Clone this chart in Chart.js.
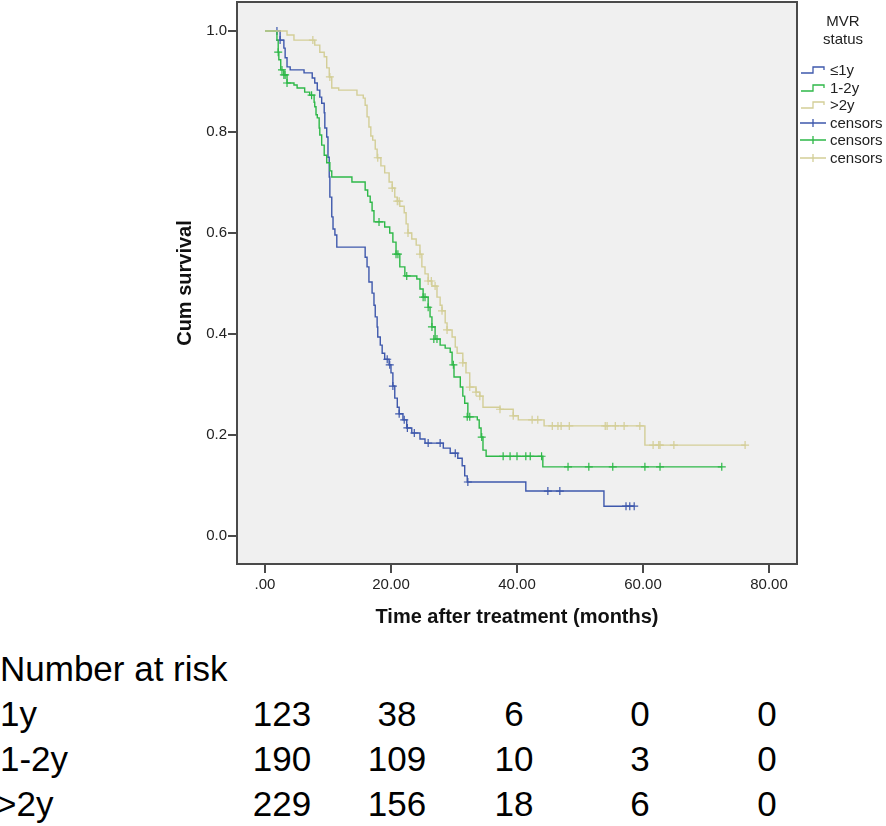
<!DOCTYPE html>
<html>
<head>
<meta charset="utf-8">
<script src="https://cdn.jsdelivr.net/npm/chart.js@4.4.1/dist/chart.umd.min.js"></script>
<style>
  body { margin: 0; background: #fff; width: 886px; height: 826px; overflow: hidden; position: relative;
         font-family: "Liberation Sans", Arial, sans-serif; }
  #wrap { position: absolute; left: 0; top: -10px; width: 886px; height: 650px; }
  .lg { position: absolute; font-size: 15px; line-height: 18px; color: #222; white-space: nowrap; }
  .lg-title { width: 88px; left: 799px; text-align: center; }
  .lg svg { position: absolute; left: -30px; top: 4px; }
  .risk { position: absolute; font-size: 35px; line-height: 35px; color: #000; white-space: nowrap; }
  .num { width: 100px; text-align: center; }
</style>
</head>
<body>
<div id="wrap"><canvas id="kmChart" width="886" height="650"></canvas></div>
<div id="legend"></div>
<div id="riskTable"></div>
<script>
// survival steps (months, cum survival)
const le1Time = [0, 2.4, 3.0, 3.2, 3.5, 4.0, 6.2, 7.5, 7.9, 8.3, 8.7, 9.0, 9.4, 9.5, 9.8, 10.0, 10.2, 10.3, 10.6, 10.8, 11.1, 11.4,
  15.9, 16.2, 16.5, 17.0, 17.3, 17.5, 17.8, 17.9, 18.3, 18.6, 19.0, 19.7, 20.0, 20.3, 20.6, 21.0, 21.3, 21.9, 22.5, 23.3,
  24.6, 25.4, 28.3, 29.4, 30.6, 31.3, 31.7, 32.1, 41.4, 53.8, 58.6];
const le1Surv = [1.0, 0.982, 0.966, 0.947, 0.929, 0.923, 0.917, 0.907, 0.897, 0.883, 0.869, 0.857, 0.838, 0.808, 0.790, 0.750, 0.711, 0.671, 0.632, 0.608, 0.596, 0.572,
  0.552, 0.533, 0.503, 0.481, 0.457, 0.434, 0.414, 0.394, 0.378, 0.362, 0.350, 0.339, 0.323, 0.297, 0.273, 0.255, 0.242, 0.230, 0.214, 0.204,
  0.192, 0.184, 0.174, 0.164, 0.154, 0.139, 0.119, 0.107, 0.089, 0.059, 0.059];
const le1CensTime = [1.9, 2.4, 19.4, 19.8, 20.3, 21.3, 22.1, 22.6, 23.7, 25.9, 27.8, 30.2, 32.2, 44.9, 46.8, 57.3, 57.9, 58.6];
const le1CensSurv = [1.0, 0.982, 0.350, 0.339, 0.297, 0.242, 0.230, 0.214, 0.204, 0.184, 0.184, 0.164, 0.107, 0.089, 0.089, 0.059, 0.059, 0.059];

const mid1Time = [0, 1.9, 2.1, 2.2, 2.5, 3.0, 3.5, 4.6, 5.1, 6.3, 7.1, 7.8, 7.9, 8.1, 8.3, 8.6, 8.7, 9.0, 9.4, 9.8, 10.3, 10.6,
  13.8, 15.9, 16.3, 16.7, 17.0, 17.3, 19.0, 19.8, 20.3, 20.8, 21.4, 22.2, 24.1, 24.6, 25.1, 25.9, 26.2, 26.5, 27.0, 27.8,
  28.6, 29.4, 29.7, 30.0, 31.0, 31.4, 31.7, 32.2, 33.7, 34.0, 34.3, 34.6, 35.1, 44.1, 72.5];
const mid1Surv = [1.0, 0.982, 0.958, 0.943, 0.923, 0.913, 0.897, 0.893, 0.887, 0.879, 0.873, 0.859, 0.850, 0.834, 0.828, 0.808, 0.794, 0.774, 0.754, 0.739, 0.723, 0.711,
  0.701, 0.685, 0.673, 0.661, 0.644, 0.622, 0.612, 0.600, 0.582, 0.558, 0.533, 0.515, 0.509, 0.489, 0.473, 0.453, 0.434, 0.414, 0.390, 0.378,
  0.372, 0.364, 0.339, 0.315, 0.295, 0.277, 0.263, 0.236, 0.230, 0.214, 0.196, 0.170, 0.158, 0.137, 0.137];
const mid1CensTime = [2.1, 2.7, 3.0, 3.2, 3.5, 7.4, 18.1, 20.8, 21.1, 22.5, 25.1, 25.4, 25.9, 26.5, 26.8, 27.3, 29.9, 32.1, 32.5, 34.4,
  37.8, 38.9, 40.0, 41.4, 42.1, 43.9, 48.1, 51.4, 55.2, 60.3, 62.7, 72.5];
const mid1CensSurv = [0.958, 0.923, 0.913, 0.913, 0.897, 0.873, 0.622, 0.558, 0.558, 0.515, 0.473, 0.473, 0.453, 0.414, 0.390, 0.390, 0.339, 0.236, 0.236, 0.196,
  0.158, 0.158, 0.158, 0.158, 0.158, 0.158, 0.137, 0.137, 0.137, 0.137, 0.137, 0.137];

const gt2Time = [0, 3.5, 4.6, 7.9, 8.7, 9.4, 9.8, 10.2, 10.6, 11.7, 14.6, 15.6, 15.9, 16.2, 16.5, 16.8, 17.1, 17.5, 17.8, 18.4,
  19.0, 19.7, 20.2, 20.6, 21.0, 21.4, 22.1, 22.4, 22.7, 23.3, 24.0, 24.6, 24.9, 25.4, 25.9, 26.5, 27.3, 27.8, 28.1, 28.6,
  28.9, 29.7, 30.2, 30.5, 31.4, 31.9, 32.5, 33.5, 34.1, 34.6, 37.3, 39.4, 40.2, 44.3, 60.3, 76.2];
const gt2Surv = [1.0, 0.992, 0.982, 0.972, 0.958, 0.949, 0.927, 0.909, 0.887, 0.883, 0.873, 0.867, 0.853, 0.830, 0.810, 0.792, 0.784, 0.766, 0.749, 0.733,
  0.719, 0.701, 0.689, 0.671, 0.663, 0.653, 0.640, 0.618, 0.600, 0.588, 0.576, 0.558, 0.533, 0.519, 0.505, 0.495, 0.473, 0.457, 0.446, 0.422,
  0.408, 0.394, 0.374, 0.362, 0.343, 0.323, 0.295, 0.285, 0.277, 0.255, 0.251, 0.238, 0.230, 0.218, 0.180, 0.180];
const gt2CensTime = [7.6, 10.3, 17.9, 20.2, 21.0, 21.3, 22.7, 24.6, 25.9, 26.4, 27.0, 28.1, 28.9, 31.4, 32.5, 33.5, 34.1, 37.3, 39.4,
  42.4, 43.3, 45.6, 46.5, 47.0, 48.3, 54.0, 54.3, 55.6, 57.0, 59.5, 61.6, 62.5, 62.7, 64.9, 76.2];
const gt2CensSurv = [0.982, 0.909, 0.749, 0.689, 0.663, 0.663, 0.600, 0.558, 0.505, 0.505, 0.495, 0.446, 0.408, 0.343, 0.295, 0.285, 0.277, 0.251, 0.238,
  0.230, 0.230, 0.218, 0.218, 0.218, 0.218, 0.218, 0.218, 0.218, 0.218, 0.218, 0.180, 0.180, 0.180, 0.180, 0.180];

const groupNames = ['≤1y', '1-2y', '>2y'];
const groupColors = ['#3E58AC', '#2EB848', '#D3CE97'];

const xTicks = [0, 20, 40, 60, 80];
const xTickLabels = ['.00', '20.00', '40.00', '60.00', '80.00'];
const yTicks = [0, 0.2, 0.4, 0.6, 0.8, 1.0];
const yTickLabels = ['0.0', '0.2', '0.4', '0.6', '0.8', '1.0'];

const riskRows = ['1y', '1-2y', '>2y'];
const risk1y = [123, 38, 6, 0, 0];
const risk12y = [190, 109, 10, 3, 0];
const risk2y = [229, 156, 18, 6, 0];

function toPoints(xs, ys) {
    return xs.map((x, i) => ({ x: x, y: ys[i] }));
}

function curve(xs, ys, color) {
    return {
        data: toPoints(xs, ys),
        showLine: true,
        stepped: true,
        borderColor: color,
        borderWidth: 1.4,
        pointRadius: 0,
        fill: false
    };
}

function censors(xs, ys, color) {
    return {
        data: toPoints(xs, ys),
        showLine: false,
        pointStyle: 'cross',
        pointRadius: 4,
        borderColor: color,
        borderWidth: 1.2,
        backgroundColor: color
    };
}

// grey plot area with a dark frame round it
const framePlugin = {
    id: 'frame',
    beforeDraw(chart) {
        const a = chart.chartArea;
        const c = chart.ctx;
        c.save();
        c.fillStyle = '#f0f0f0';
        c.fillRect(a.left, a.top, a.right - a.left, a.bottom - a.top);
        c.restore();
    },
    afterDraw(chart) {
        const a = chart.chartArea;
        const c = chart.ctx;
        c.save();
        c.strokeStyle = '#4a4a4a';
        c.lineWidth = 2;
        c.strokeRect(a.left, a.top, a.right - a.left, a.bottom - a.top);
        c.restore();
    }
};

const titleFont = { family: 'Liberation Sans', weight: 'bold', size: 20 };

const ctx = document.getElementById('kmChart').getContext('2d');
new Chart(ctx, {
    type: 'scatter',
    data: {
        datasets: [
            curve(gt2Time, gt2Surv, groupColors[2]),
            curve(mid1Time, mid1Surv, groupColors[1]),
            curve(le1Time, le1Surv, groupColors[0]),
            censors(gt2CensTime, gt2CensSurv, groupColors[2]),
            censors(mid1CensTime, mid1CensSurv, groupColors[1]),
            censors(le1CensTime, le1CensSurv, groupColors[0])
        ]
    },
    options: {
        responsive: false,
        animation: false,
        layout: { padding: { left: 170, top: 12, right: 89, bottom: 0 } },
        plugins: { legend: { display: false }, tooltip: { enabled: false } },
        scales: {
            x: {
                type: 'linear',
                min: -4.44,
                max: 84.44,
                afterBuildTicks: s => { s.ticks = xTicks.map(v => ({ value: v })); },
                afterFit: s => { s.height = 76; },
                ticks: {
                    callback: (v, i) => xTickLabels[i],
                    font: { family: 'Liberation Sans', size: 15 },
                    color: '#222',
                    padding: 3,
                    maxRotation: 0
                },
                grid: { drawOnChartArea: false, drawTicks: true, tickLength: 9, color: '#4a4a4a', lineWidth: 2 },
                border: { display: false },
                title: {
                    display: true,
                    text: 'Time after treatment (months)',
                    font: titleFont,
                    color: '#111',
                    padding: { top: 0, bottom: 11 }
                }
            },
            y: {
                type: 'linear',
                min: -0.0554,
                max: 1.0574,
                afterBuildTicks: s => { s.ticks = yTicks.map(v => ({ value: v })); },
                afterFit: s => { s.width = 67; },
                ticks: {
                    callback: (v, i) => yTickLabels[i],
                    font: { family: 'Liberation Sans', size: 15 },
                    color: '#222',
                    padding: 1
                },
                grid: { drawOnChartArea: false, drawTicks: true, tickLength: 9, color: '#4a4a4a', lineWidth: 2 },
                border: { display: false },
                title: {
                    display: true,
                    text: 'Cum survival',
                    font: titleFont,
                    color: '#111',
                    padding: { top: 3, bottom: 0 }
                }
            }
        }
    },
    plugins: [framePlugin]
});

// legend to the right of the plot
const legend = document.getElementById('legend');
function addLegendText(text, top, left, cls) {
    const d = document.createElement('div');
    d.className = 'lg ' + (cls || '');
    d.style.top = top + 'px';
    if (left !== null) d.style.left = left + 'px';
    d.textContent = text;
    legend.appendChild(d);
    return d;
}
addLegendText('MVR', 12, null, 'lg-title');
addLegendText('status', 30, null, 'lg-title');
const rowTops = [61, 79, 96, 114, 131, 149];
groupNames.forEach((name, i) => {
    const d = addLegendText(name, rowTops[i], 830);
    d.insertAdjacentHTML('afterbegin',
        '<svg width="28" height="10"><path d="M1 8 H13 V2 H24 V5" fill="none" stroke="' + groupColors[i] + '" stroke-width="1.3"/></svg>');
});
groupNames.forEach((name, i) => {
    const d = addLegendText('censors', rowTops[i + 3], 830);
    d.insertAdjacentHTML('afterbegin',
        '<svg width="28" height="10"><path d="M0 5 H26 M13 1 V9" fill="none" stroke="' + groupColors[i] + '" stroke-width="1.3"/></svg>');
});

// number at risk table underneath
const table = document.getElementById('riskTable');
function addRisk(text, left, top, cls) {
    const d = document.createElement('div');
    d.className = 'risk ' + (cls || '');
    d.style.left = left + 'px';
    d.style.top = top + 'px';
    d.textContent = text;
    table.appendChild(d);
}
const colCenters = [282, 397, 514, 640, 767];
addRisk('Number at risk', 0, 651);
[risk1y, risk12y, risk2y].forEach((row, r) => {
    const top = 696 + r * 45;
    addRisk(riskRows[r], r === 2 ? -4 : 0, top);
    row.forEach((v, c) => addRisk(String(v), colCenters[c] - 50, top, 'num'));
});
</script>
</body>
</html>
